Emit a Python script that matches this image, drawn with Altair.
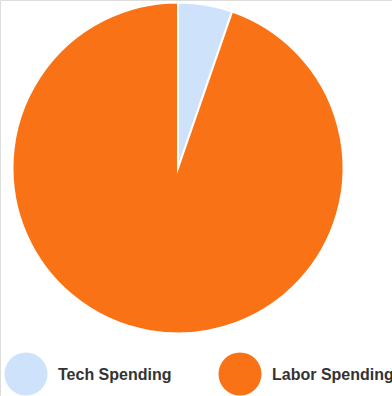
import altair as alt
import pandas as pd

categories = ["Tech Spending", "Labor Spending"]
values = [5.3, 94.7]
order = [0, 1]
colors = ["#cfe2fc", "#f97316"]

df = pd.DataFrame({"category": categories, "value": values, "order": order})

color_scale = alt.Scale(domain=categories, range=colors)
base = alt.Chart(df)

pie = base.mark_arc(
    outerRadius=165.5, stroke="white", strokeWidth=2, strokeJoin="miter", strokeMiterLimit=10
).encode(
    theta=alt.Theta("value:Q", stack=True),
    color=alt.Color("category:N", scale=color_scale, legend=None),
    order=alt.Order("order:Q"),
    x=alt.value(178),
    y=alt.value(168),
)

legend_x = alt.X(
    "category:N",
    scale=alt.Scale(type="point", domain=categories, range=[26, 240], padding=0),
    axis=None,
)

dots = base.mark_circle(size=1850, opacity=1).encode(
    x=legend_x,
    y=alt.value(374),
    color=alt.Color("category:N", scale=color_scale, legend=None),
)

labels = base.mark_text(
    align="left", baseline="middle", dx=32, fontSize=16, fontWeight="bold",
    color="#333333", font="Liberation Sans",
).encode(
    x=legend_x,
    y=alt.value(375),
    text="category:N",
)

chart = alt.layer(pie, dots, labels).properties(
    width=392, height=396, autosize=alt.AutoSizeParams(type="none"), padding=0
).configure_view(stroke=None).configure(background="white")

chart.save("out.html", embed_options={"renderer": "svg", "actions": False})
